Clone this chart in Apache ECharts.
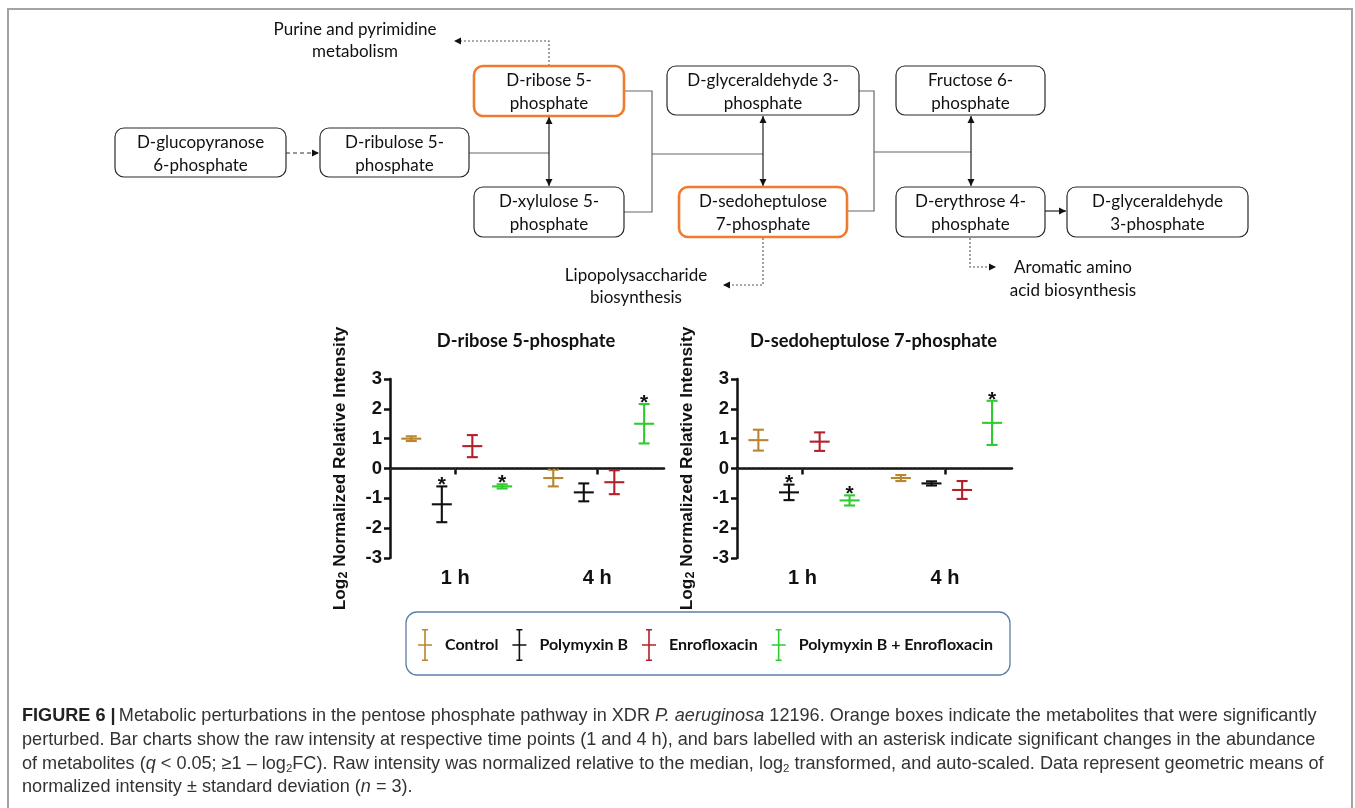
<!DOCTYPE html>
<html>
<head>
<meta charset="utf-8">
<script src="https://cdn.jsdelivr.net/npm/echarts@6/dist/echarts.min.js"></script>
<style>
  html, body { margin: 0; padding: 0; background: #fff; }
  #c { width: 1355px; height: 808px; }
</style>
</head>
<body>
<div id="c"></div>
<script>
// ---- data ----
const timePoints = ['1 h', '4 h'];
const timeIndex = [1, 2];
const treatments = ['Control', 'Polymyxin B', 'Enrofloxacin', 'Polymyxin B + Enrofloxacin'];
const yTicks = [-3, -2, -1, 0, 1, 2, 3];

// D-ribose 5-phosphate: per treatment, values at [1 h, 4 h]
const r5pMean = [[1.00, -0.32], [-1.20, -0.80], [0.75, -0.46], [-0.60, 1.50]];
const r5pSD   = [[0.08, 0.28], [0.60, 0.30], [0.37, 0.40], [0.07, 0.66]];
const r5pSig  = [[0, 0], [1, 0], [0, 0], [1, 1]];

// D-sedoheptulose 7-phosphate
const s7pMean = [[0.95, -0.32], [-0.80, -0.50], [0.90, -0.72], [-1.07, 1.53]];
const s7pSD   = [[0.35, 0.10], [0.26, 0.07], [0.31, 0.30], [0.17, 0.74]];
const s7pSig  = [[0, 0], [1, 0], [0, 0], [1, 1]];

const panelTitles = ['D-ribose 5-phosphate', 'D-sedoheptulose 7-phosphate'];

// ---- styling ----
const colors = ['#B8862E', '#111111', '#B4202A', '#2FCB2F'];
const groupShift = [-0.31, -0.095, 0.12, 0.33];   // dodge of treatments around each time point
const capHalf = 5.5, meanHalf = 10;
const armFont = 'Liberation Sans, Arial, sans-serif';
const calFont = 'Lato, sans-serif';

// ---- pathway diagram layout ----
const boxes = [
  { x: 115, y: 128, w: 171, h: 49, t: ['D-glucopyranose', '6-phosphate'] },
  { x: 320, y: 128, w: 149, h: 49, t: ['D-ribulose 5-', 'phosphate'] },
  { x: 474, y: 66, w: 150, h: 50, t: ['D-ribose 5-', 'phosphate'], hi: true },
  { x: 474, y: 187, w: 150, h: 50, t: ['D-xylulose 5-', 'phosphate'] },
  { x: 667, y: 66, w: 192, h: 49, t: ['D-glyceraldehyde 3-', 'phosphate'] },
  { x: 679, y: 187, w: 168, h: 50, t: ['D-sedoheptulose', '7-phosphate'], hi: true },
  { x: 896, y: 66, w: 149, h: 49, t: ['Fructose 6-', 'phosphate'] },
  { x: 896, y: 187, w: 149, h: 50, t: ['D-erythrose 4-', 'phosphate'] },
  { x: 1067, y: 187, w: 181, h: 50, t: ['D-glyceraldehyde', '3-phosphate'] }
];
// connectors: points, style kind, arrow heads at start/end
const links = [
  { p: [[286, 153], [319, 153]], k: 'dash', end: 'right' },
  { p: [[469, 153], [549, 153]], k: 'solid' },
  { p: [[549, 117], [549, 186]], k: 'dark', start: 'up', end: 'down' },
  { p: [[624, 91], [652, 91], [652, 212], [624, 212]], k: 'solid' },
  { p: [[652, 154], [763, 154]], k: 'solid' },
  { p: [[763, 116], [763, 186]], k: 'dark', start: 'up', end: 'down' },
  { p: [[859, 91], [874, 91], [874, 211], [847, 211]], k: 'solid' },
  { p: [[874, 152], [971, 152]], k: 'solid' },
  { p: [[971, 116], [971, 186]], k: 'dark', start: 'up', end: 'down' },
  { p: [[1045, 211], [1066, 211]], k: 'dark', end: 'right' },
  { p: [[549, 66], [549, 41], [454, 41]], k: 'dot', end: 'left' },
  { p: [[763, 238], [763, 285], [723, 285]], k: 'dot', end: 'left' },
  { p: [[970, 238], [970, 267], [996, 267]], k: 'dot', end: 'right' }
];
const notes = [
  { x: 355, y: [30, 52], t: ['Purine and pyrimidine', 'metabolism'] },
  { x: 636, y: [276, 298], t: ['Lipopolysaccharide', 'biosynthesis'] },
  { x: 1073, y: [268, 291], t: ['Aromatic amino', 'acid biosynthesis'] }
];

function arrowHead(pt, dir) {
  const L = 7, W = 3.5, [x, y] = pt;
  const shapes = {
    up: [[x, y], [x - W, y + L], [x + W, y + L]],
    down: [[x, y], [x - W, y - L], [x + W, y - L]],
    left: [[x, y], [x + L, y - W], [x + L, y + W]],
    right: [[x, y], [x - L, y - W], [x - L, y + W]]
  };
  return { type: 'polygon', shape: { points: shapes[dir] }, style: { fill: '#111' }, silent: true };
}

function diagramElements() {
  const els = [];
  const kinds = {
    solid: { stroke: '#666', lineWidth: 1.2 },
    dark: { stroke: '#222', lineWidth: 1.2 },
    dash: { stroke: '#333', lineWidth: 1.2, lineDash: [4, 3] },
    dot: { stroke: '#555', lineWidth: 1.1, lineDash: [2, 2] }
  };
  links.forEach(l => {
    els.push({ type: 'polyline', shape: { points: l.p }, style: Object.assign({ fill: null }, kinds[l.k]), silent: true });
    if (l.start) els.push(arrowHead(l.p[0], l.start));
    if (l.end) els.push(arrowHead(l.p[l.p.length - 1], l.end));
  });
  boxes.forEach(b => {
    els.push({
      type: 'rect', shape: { x: b.x, y: b.y, width: b.w, height: b.h, r: 9 },
      style: { fill: '#fff', stroke: b.hi ? '#EE7B30' : '#2a2a2a', lineWidth: b.hi ? 2.6 : 1.2 }, silent: true
    });
    b.t.forEach((s, i) => {
      els.push({
        type: 'text', silent: true,
        style: { text: s, x: b.x + b.w / 2, y: b.y + 15 + 23 * i, font: '17px ' + calFont, fill: '#111',
                 align: 'center', verticalAlign: 'middle', textAlign: 'center', textVerticalAlign: 'middle' }
      });
    });
  });
  notes.forEach(n => {
    n.t.forEach((s, i) => {
      els.push({
        type: 'text', silent: true,
        style: { text: s, x: n.x, y: n.y[i], font: '17px ' + calFont, fill: '#111',
                 align: 'center', verticalAlign: 'middle', textAlign: 'center', textVerticalAlign: 'middle' }
      });
    });
  });
  return els;
}

// ---- caption ----
const captionLines = [
  '{b|FIGURE 6 |} {n|Metabolic perturbations in the pentose phosphate pathway in XDR }{i|P. aeruginosa}{n| 12196. Orange boxes indicate the metabolites that were significantly}',
  '{n|perturbed. Bar charts show the raw intensity at respective time points (1 and 4 h), and bars labelled with an asterisk indicate significant changes in the abundance}',
  '{n|of metabolites (}{i|q}{n| < 0.05; \u22651 \u2013 log}{s|2}{n|FC). Raw intensity was normalized relative to the median, log}{s|2}{n| transformed, and auto-scaled. Data represent geometric means of}',
  '{n|normalized intensity \u00b1 standard deviation (}{i|n}{n| = 3).}'
];
const capFS = 18.1;
const captionRich = {
  b: { fontFamily: armFont, fontSize: capFS, fontWeight: 'bold', fill: '#222', color: '#222', lineHeight: 22 },
  n: { fontFamily: armFont, fontSize: capFS, fill: '#333', color: '#333', lineHeight: 22 },
  i: { fontFamily: armFont, fontSize: capFS, fontStyle: 'italic', fill: '#333', color: '#333', lineHeight: 22 },
  s: { fontFamily: armFont, fontSize: 11.5, fill: '#333', color: '#333', lineHeight: 14, verticalAlign: 'bottom' }
};
function captionElements() {
  const ys = [716, 740, 764, 787];
  return captionLines.map((t, i) => ({
    type: 'text', silent: true,
    style: { text: t, x: 22, y: ys[i], rich: captionRich, align: 'left', verticalAlign: 'middle',
             textAlign: 'left', textVerticalAlign: 'middle' }
  }));
}

// ---- legend / frame ----
const legendIcon = 'path://M4 0H10V1.6H4Z M6.2 0H7.8V32H6.2Z M4 30.4H10V32H4Z M0 15.2H14V16.8H0Z';

function frameElements() {
  return [
    { type: 'polyline', silent: true, shape: { points: [[8, 808], [8, 9], [1352, 9], [1352, 808]] },
      style: { fill: null, stroke: '#a3a3a3', lineWidth: 2 } },
    { type: 'rect', silent: true, shape: { x: 406, y: 612, width: 604, height: 63, r: 11 },
      style: { fill: null, stroke: '#5C7FA8', lineWidth: 1.3 } }
  ];
}

// ---- error bar series ----
function errorSeries(panel, k, means, sds, sigs) {
  const col = colors[k];
  const s = {
    type: 'custom', name: treatments[k], xAxisIndex: panel, yAxisIndex: panel,
    itemStyle: { color: col },
    encode: { x: 0, y: 1 },
    data: timeIndex.map((t, i) => [t, means[k][i], sds[k][i], sigs[k][i]]),
    renderItem(params, api) {
      const xv = api.value(0) + groupShift[k];
      const m = api.value(1), sd = api.value(2);
      const c = api.coord([xv, m]);
      const top = api.coord([xv, m + sd])[1];
      const bot = api.coord([xv, m - sd])[1];
      const st = () => ({ stroke: col, lineWidth: 2.1 });
      const ch = [
        { type: 'line', shape: { x1: c[0], y1: top, x2: c[0], y2: bot }, style: st() },
        { type: 'line', shape: { x1: c[0] - capHalf, y1: top, x2: c[0] + capHalf, y2: top }, style: st() },
        { type: 'line', shape: { x1: c[0] - capHalf, y1: bot, x2: c[0] + capHalf, y2: bot }, style: st() },
        { type: 'line', shape: { x1: c[0] - meanHalf, y1: c[1], x2: c[0] + meanHalf, y2: c[1] }, style: st() }
      ];
      if (api.value(3)) {
        ch.push({ type: 'text', style: { text: '*', x: c[0], y: top - 1, font: 'bold 21px ' + armFont,
          fill: '#111', align: 'center', verticalAlign: 'middle' } });
      }
      return { type: 'group', children: ch };
    }
  };
  if (k === 0) {
    s.markLine = {
      silent: true, symbol: 'none', label: { show: false },
      lineStyle: { type: [1.6, 3], color: '#333', width: 1.6 },
      data: [{ yAxis: 0 }]
    };
  }
  return s;
}

const grids = [
  { left: 390, top: 379, width: 274, height: 179 },
  { left: 737, top: 379, width: 275, height: 179 }
];

function xAxisFor(i) {
  return {
    type: 'value', gridIndex: i, min: 0.54, max: 2.47,
    axisLine: { show: true, lineStyle: { color: '#111', width: 2.5 } },
    axisTick: { show: true, length: 6, lineStyle: { color: '#111', width: 2.5 }, customValues: timeIndex },
    axisLabel: { show: true, customValues: timeIndex, margin: 10,
      formatter: v => timePoints[timeIndex.indexOf(Math.round(v))] || '',
      fontFamily: armFont, fontWeight: 'bold', fontSize: 20, color: '#111' },
    splitLine: { show: false }
  };
}
function yAxisFor(i) {
  return {
    type: 'value', gridIndex: i, min: yTicks[0], max: yTicks[yTicks.length - 1], interval: 1,
    axisLine: { show: true, lineStyle: { color: '#111', width: 2.5 } },
    axisTick: { show: true, length: 6, lineStyle: { color: '#111', width: 2.5 } },
    axisLabel: { margin: 8, fontFamily: armFont, fontWeight: 'bold', fontSize: 18.5, color: '#111' },
    splitLine: { show: false },
    name: '{a|Log}{s|2}{a| Normalized Relative Intensity}',
    nameLocation: 'middle', nameGap: 40, nameRotate: 90,
    nameTextStyle: {
      rich: {
        a: { fontFamily: armFont, fontWeight: 'bold', fontSize: 17.3, color: '#111', lineHeight: 20 },
        s: { fontFamily: armFont, fontWeight: 'bold', fontSize: 12.5, color: '#111', lineHeight: 12, verticalAlign: 'bottom' }
      }
    }
  };
}

const series = [];
for (let k = 0; k < 4; k++) series.push(errorSeries(0, k, r5pMean, r5pSD, r5pSig));
for (let k = 0; k < 4; k++) series.push(errorSeries(1, k, s7pMean, s7pSD, s7pSig));

const chart = echarts.init(document.getElementById('c'), null, { renderer: 'canvas' });
chart.setOption({
  animation: false,
  backgroundColor: '#fff',
  title: panelTitles.map((t, i) => ({
    text: t, left: grids[i].left + grids[i].width / 2 - 1, top: 332, textAlign: 'center', padding: 0,
    textStyle: { fontFamily: calFont, fontWeight: 'bold', fontSize: 18.3, color: '#111' }
  })),
  grid: grids,
  xAxis: [xAxisFor(0), xAxisFor(1)],
  yAxis: [yAxisFor(0), yAxisFor(1)],
  legend: {
    data: treatments, left: 413, top: 624, orient: 'horizontal',
    icon: legendIcon, itemWidth: 14, itemHeight: 32, itemGap: 14, selectedMode: false,
    textStyle: { fontFamily: calFont, fontWeight: 'bold', fontSize: 16, color: '#111', padding: [0, 0, 0, 8] }
  },
  graphic: { elements: [].concat(frameElements(), diagramElements(), captionElements()) },
  series: series
});
</script>
</body>
</html>
